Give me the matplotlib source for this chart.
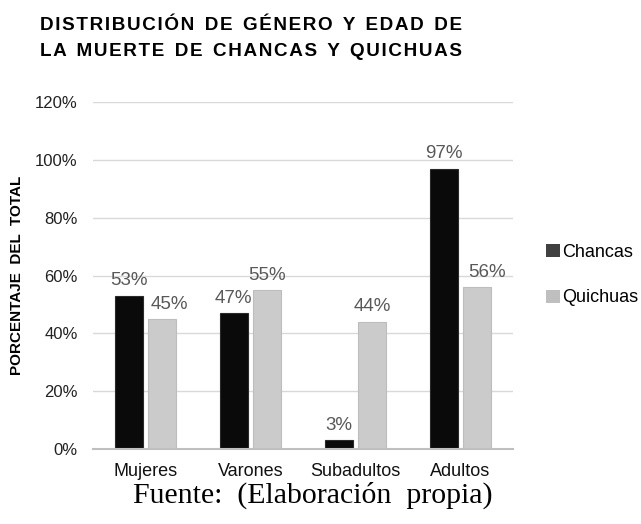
import matplotlib
matplotlib.use("Agg")
import matplotlib.pyplot as plt
import numpy as np
from matplotlib.patches import Patch

categories = ["Mujeres", "Varones", "Subadultos", "Adultos"]
chancas = [53, 47, 3, 97]
quichuas = [45, 55, 44, 56]
yticks = [0, 20, 40, 60, 80, 100, 120]

# label horizontal nudges in points (layout only)
chancas_dx = [0, 0, 0, 0]
quichuas_dx = [5, 0, 0, 7]

plt.rcParams['font.family'] = ['Liberation Sans', 'DejaVu Sans']

fig = plt.figure(figsize=(6.41, 5.24), dpi=100)
ax = fig.add_axes([93/641, 1-449/524, (513-93)/641, (449-102)/524])

x = np.arange(len(categories))
w = 0.27
off = 0.16
b1 = ax.bar(x - off, chancas, w, color="#0a0a0a", edgecolor="#2a2a2a", linewidth=0.8,
            label="Chancas", zorder=3)
b2 = ax.bar(x + off, quichuas, w, color="#cbcbcb", edgecolor="#bdbdbd", linewidth=0.8,
            label="Quichuas", zorder=3)

for rect, v, dx in zip(b1, chancas, chancas_dx):
    ax.annotate(f"{v}%", (rect.get_x() + rect.get_width()/2, v + 2.2), xytext=(dx, 0),
                textcoords="offset points", ha="center", va="bottom",
                fontsize=13.5, color="#595959")
for rect, v, dx in zip(b2, quichuas, quichuas_dx):
    ax.annotate(f"{v}%", (rect.get_x() + rect.get_width()/2, v + 2.2), xytext=(dx, 0),
                textcoords="offset points", ha="center", va="bottom",
                fontsize=13.5, color="#595959")

ax.set_xlim(-0.5, len(categories) - 0.5)
ax.set_ylim(0, 120)
ax.set_yticks(yticks)
ax.set_yticklabels([f"{t}%" for t in yticks], fontsize=12, color="#222222")
ax.set_xticks(x)
ax.set_xticklabels(categories, fontsize=13, color="#111111")
ax.tick_params(axis='y', length=0, pad=11)
ax.tick_params(axis='x', length=0, pad=10)
ax.grid(axis='y', color="#d9d9d9", linewidth=1, zorder=0)
for s in ["top", "right", "left"]:
    ax.spines[s].set_visible(False)
ax.spines["bottom"].set_color("#bfbfbf")
ax.spines["bottom"].set_linewidth(1.5)
ax.spines["bottom"].set_zorder(4)

ax.set_ylabel("PORCENTAJE  DEL  TOTAL", fontsize=11, fontweight="bold", labelpad=8)

hs = "\u200a"
def spaced(s):
    return "  ".join(hs.join(list(word)) for word in s.split(" "))

fig.text(251/641, 1-26/524, spaced("DISTRIBUCIÓN DE GÉNERO Y EDAD DE"),
         ha="center", va="center", fontsize=13.6, fontweight="bold")
fig.text(251/641, 1-52/524, spaced("LA MUERTE DE CHANCAS Y QUICHUAS"),
         ha="center", va="center", fontsize=13.6, fontweight="bold")

handles = [Patch(facecolor="#404040", label="Chancas"), Patch(facecolor="#bfbfbf", label="Quichuas")]
fig.legend(handles=handles, loc="center left", bbox_to_anchor=(530/641, 1-275/524), frameon=False,
           fontsize=13, handlelength=0.75, handleheight=0.75, handletextpad=0.15, labelspacing=1.6)

fig.text(313/641, 1-495/524, "Fuente:  (Elaboración  propia)", ha="center", va="center",
         fontsize=21.5, family=["Liberation Serif", "DejaVu Serif"])

fig.savefig("out.png", dpi=100)
